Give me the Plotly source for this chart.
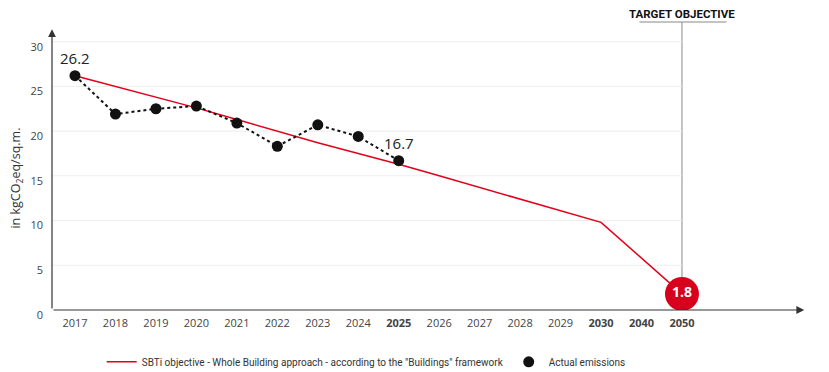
import plotly.graph_objects as go

years = ["2017", "2018", "2019", "2020", "2021", "2022", "2023", "2024", "2025",
         "2026", "2027", "2028", "2029", "2030", "2040", "2050"]
tick_labels = ["2017", "2018", "2019", "2020", "2021", "2022", "2023", "2024", "<b>2025</b>",
               "2026", "2027", "2028", "2029", "<b>2030</b>", "<b>2040</b>", "<b>2050</b>"]
sbti_objective = [26.2, 25.0, 23.8, 22.6, 21.3, 20.0, 18.7, 17.5, 16.3,
                  15.0, 13.7, 12.4, 11.1, 9.8, None, 1.8]
actual_years = ["2017", "2018", "2019", "2020", "2021", "2022", "2023", "2024", "2025"]
actual_emissions = [26.2, 21.9, 22.5, 22.8, 20.9, 18.3, 20.7, 19.4, 16.7]
target_year = "2050"
target_value = 1.8
y_ticks = [0, 5, 10, 15, 20, 25, 30]

RED = "#e2001a"
TEXT = "#444444"
GRID = "#eeeeee"

X_MIN, X_MAX = -0.568, 18.04
Y_MAX = 32.2

first_idx = years.index(actual_years[0])
last_idx = years.index(actual_years[-1])
target_idx = years.index(target_year)

fig = go.Figure()

fig.add_trace(go.Scatter(
    x=years, y=sbti_objective, mode="lines", connectgaps=True,
    line=dict(color=RED, width=1.5),
    name='SBTi objective - Whole Building approach - according to the "Buildings" framework'))

fig.add_trace(go.Scatter(
    x=actual_years, y=actual_emissions, mode="lines",
    line=dict(color="#111111", width=2, dash="dot"),
    showlegend=False, hoverinfo="skip"))

fig.add_trace(go.Scatter(
    x=actual_years, y=actual_emissions, mode="markers",
    marker=dict(color="#111111", size=11),
    name="Actual emissions"))

fig.add_trace(go.Scatter(
    x=[target_year], y=[target_value], mode="markers+text",
    marker=dict(color="#d7001d", size=34),
    text=["<b>%.1f</b>" % target_value], textposition="middle center",
    textfont=dict(color="white", size=14, family="Open Sans"),
    showlegend=False, hoverinfo="skip"))

shapes = []
for v in y_ticks[1:]:
    shapes.append(dict(type="line", xref="x", yref="y", x0=X_MIN, x1=target_idx, y0=v, y1=v,
                       line=dict(color=GRID, width=1), layer="below"))
shapes.append(dict(type="line", xref="x", yref="paper", x0=target_idx, x1=target_idx, y0=0, y1=1.0,
                   line=dict(color="#888888", width=1), layer="below"))
shapes.append(dict(type="line", xref="x", yref="paper", x0=target_idx - 1.05, x1=target_idx + 1.1,
                   y0=1.0, y1=1.0, line=dict(color="#888888", width=1)))
fig.update_layout(shapes=shapes)

annotations = [
    dict(x=X_MIN, y=31.4, xref="x", yref="y", ax=X_MIN, ay=0, axref="x", ayref="y",
         showarrow=True, arrowhead=2, arrowsize=1.3, arrowwidth=1.2, arrowcolor="#333333", text=""),
    dict(x=X_MAX - 0.02, y=0, xref="x", yref="y", ax=X_MIN, ay=0, axref="x", ayref="y",
         showarrow=True, arrowhead=2, arrowsize=1.3, arrowwidth=1.2, arrowcolor="#333333", text=""),
    dict(x=first_idx, y=actual_emissions[0], xref="x", yref="y", text="%.1f" % actual_emissions[0],
         showarrow=False, yshift=18, font=dict(size=15, color="#222222", family="Open Sans")),
    dict(x=last_idx, y=actual_emissions[-1], xref="x", yref="y", text="%.1f" % actual_emissions[-1],
         showarrow=False, yshift=18, font=dict(size=15, color="#222222", family="Open Sans")),
    dict(x=target_idx, y=1.0, xref="x", yref="paper", yanchor="bottom", yshift=0,
         text="<b>TARGET OBJECTIVE</b>", showarrow=False, borderpad=0,
         font=dict(size=11.5, color="#111111", family="Roboto")),
    dict(x=-0.0465, y=14.8, xref="paper", yref="y", xanchor="center", yanchor="middle",
         text="in kgCO<sub>2</sub>eq/sq.m.", borderpad=0,
         textangle=-90, showarrow=False, font=dict(size=12.5, color="#333333", family="Open Sans")),
]
fig.update_layout(annotations=annotations)

fig.update_layout(
    width=821, height=364,
    margin=dict(l=44, r=24, t=14, b=62, autoexpand=False),
    paper_bgcolor="white", plot_bgcolor="white",
    font=dict(family="Open Sans", color=TEXT),
    xaxis=dict(type="category", categoryorder="array", categoryarray=years,
               tickmode="array", tickvals=years, ticktext=tick_labels, automargin=False,
               range=[X_MIN, X_MAX], showgrid=False, zeroline=False, showline=False,
               ticks="", ticklabelstandoff=5, tickfont=dict(size=11, color=TEXT)),
    yaxis=dict(range=[0, Y_MAX], tickvals=y_ticks, showgrid=False, zeroline=False,
               showline=False, ticks="", ticklabelshift=5, ticklabelstandoff=8, automargin=False,
               tickfont=dict(size=11, color=TEXT)),
    legend=dict(orientation="h", x=0.066, y=-0.18, xanchor="left", yanchor="middle",
                font=dict(size=10, color="#333333", family="Roboto"),
                bgcolor="rgba(0,0,0,0)"),
    showlegend=True,
)

fig.write_html("out.html")
